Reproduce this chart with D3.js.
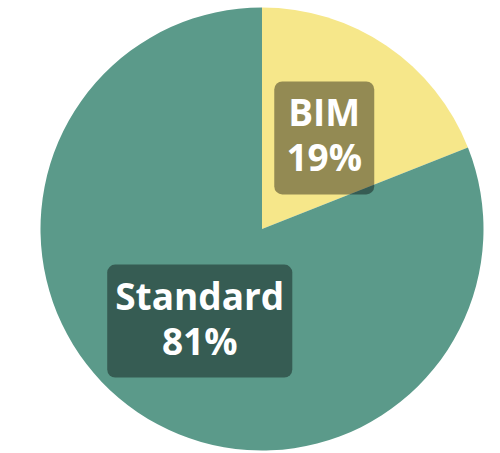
<!DOCTYPE html>
<html>
<head>
<meta charset="utf-8">
<script src="https://cdn.jsdelivr.net/npm/d3@7"></script>
<style>
  body { margin: 0; background: #fff; }
</style>
</head>
<body>
<svg width="500" height="453"></svg>
<script>
var width = 500;
var height = 453;
var categories = ["BIM", "Standard"];
var values = [19, 81];
var colors = ["#f6e78a", "#5b9a8a"];

var cx = 262, cy = 229, radius = 221.5;

var svg = d3.select('svg');
var g = svg.append("g")
    .attr("transform", "translate(" + cx + "," + cy + ")");

var data = categories.map(function (c, i) { return { name: c, value: values[i] }; });

// pie starts at 12 o'clock, keep given order
var pie = d3.pie().sort(null).value(function (d) { return d.value; });
var arc = d3.arc().innerRadius(0).outerRadius(radius);
var arcs = pie(data);

g.selectAll("path.slice")
    .data(arcs)
    .enter()
    .append("path")
    .attr("class", "slice")
    .attr("d", arc)
    .attr("fill", function (d, i) { return colors[i]; });

var total = d3.sum(values);

// labels at centroid with dark rounded box
var labels = g.selectAll("g.label")
    .data(arcs)
    .enter()
    .append("g")
    .attr("class", "label")
    .attr("transform", function (d) { return "translate(" + arc.centroid(d) + ")"; });

var boxes = labels.append("rect")
    .attr("rx", 8)
    .attr("ry", 8)
    .attr("fill", "#000")
    .attr("fill-opacity", 0.4);

var texts = labels.append("text")
    .attr("text-anchor", "middle")
    .attr("fill", "#fff")
    .attr("font-family", "'Open Sans', sans-serif")
    .attr("font-weight", "bold")
    .attr("font-size", "37px");

texts.append("tspan")
    .attr("x", 0)
    .attr("y", -11)
    .text(function (d) { return d.data.name; });
texts.append("tspan")
    .attr("x", 0)
    .attr("y", 34)
    .text(function (d) { return Math.round(d.data.value / total * 100) + "%"; });

boxes.each(function (d, i) {
    var bb = texts.nodes()[i].getBBox();
    var w = Math.max(bb.width + 16, 100);
    d3.select(this)
        .attr("x", -w / 2)
        .attr("y", -56)
        .attr("width", w)
        .attr("height", 113);
});
</script>
</body>
</html>
